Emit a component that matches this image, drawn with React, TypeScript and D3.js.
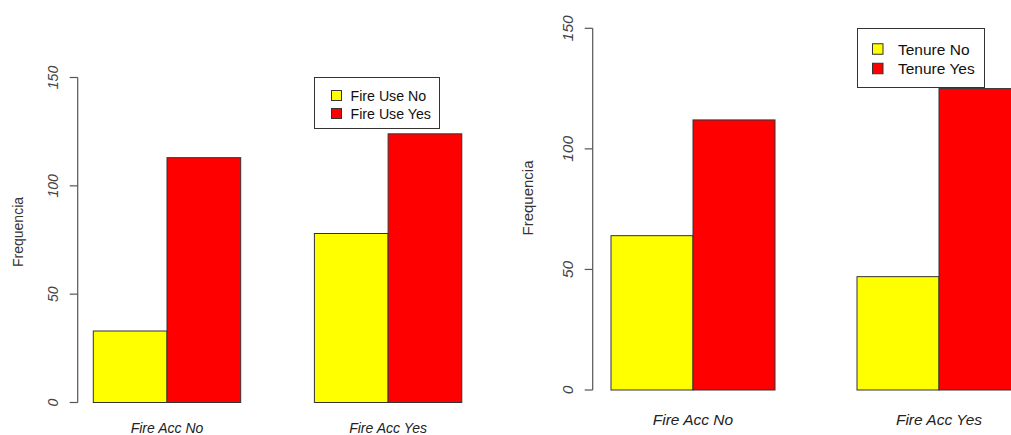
import React from "react";
import * as d3 from "d3";

const categories = ["Fire Acc No", "Fire Acc Yes"];
const fireUseNo = [33, 78];
const fireUseYes = [113, 124];
const tenureNo = [64, 47];
const tenureYes = [112, 125];
const yTicks = [0, 50, 100, 150];
const leftLegend = ["Fire Use No", "Fire Use Yes"];
const rightLegend = ["Tenure No", "Tenure Yes"];
const seriesColors = ["#FFFF00", "#FF0000"];

type PanelProps = {
  s1: number[];
  s2: number[];
  legend: string[];
  yBottom: number;
  yTop: number;
  x0: number;
  unit: number;
  axisX: number;
  tickFs: number;
  ylabFs: number;
  ylabX: number;
  ylabY: number;
  xlabFs: number;
  xlabY: number;
  leg: { x: number; y: number; w: number; h: number; fs: number; r1: number; r2: number; sw: number; swX: number; txX: number };
};

function Panel(p: PanelProps) {
  const y = d3.scaleLinear().domain([0, 150]).range([p.yBottom, p.yTop]);
  const x = d3.scaleLinear().domain([0, 6]).range([p.x0, p.x0 + 6 * p.unit]);
  const series = [p.s1, p.s2];
  const font = "Liberation Sans, Arial, sans-serif";
  return (
    <g>
      {categories.map((c, gi) =>
        series.map((s, si) => {
          const u = 1 + gi * 3 + si;
          return (
            <rect
              key={c + si}
              x={x(u)}
              y={y(s[gi])}
              width={x(u + 1) - x(u)}
              height={y(0) - y(s[gi])}
              fill={seriesColors[si]}
              stroke="#333"
              strokeWidth={1}
            />
          );
        })
      )}
      <line x1={p.axisX} x2={p.axisX} y1={y(0)} y2={y(150)} stroke="#555" strokeWidth={1.2} />
      {yTicks.map((t) => (
        <g key={t}>
          <line x1={p.axisX - 8} x2={p.axisX} y1={y(t)} y2={y(t)} stroke="#555" strokeWidth={1.2} />
          <text
            transform={`translate(${p.axisX - 20},${y(t)}) rotate(-90)`}
            textAnchor="middle"
            fontFamily={font}
            fontStyle="italic"
            fontSize={p.tickFs}
            fill="#444"
          >
            {t}
          </text>
        </g>
      ))}
      <text
        transform={`translate(${p.ylabX},${p.ylabY}) rotate(-90)`}
        textAnchor="middle"
        dominantBaseline="central"
        fontFamily={font}
        fontSize={p.ylabFs}
        fill="#333"
      >
        Frequencia
      </text>
      {categories.map((c, gi) => (
        <text
          key={c}
          x={x(2 + gi * 3)}
          y={p.xlabY}
          textAnchor="middle"
          dominantBaseline="central"
          fontFamily={font}
          fontStyle="italic"
          fontSize={p.xlabFs}
          fill="#222"
        >
          {c}
        </text>
      ))}
      <rect x={p.leg.x} y={p.leg.y} width={p.leg.w} height={p.leg.h} fill="#fff" stroke="#333" strokeWidth={1} />
      {p.legend.map((l, i) => {
        const cy = p.leg.y + (i === 0 ? p.leg.r1 : p.leg.r2);
        return (
          <g key={l}>
            <rect
              x={p.leg.swX}
              y={cy - p.leg.sw / 2}
              width={p.leg.sw}
              height={p.leg.sw}
              fill={seriesColors[i]}
              stroke="#333"
              strokeWidth={1}
            />
            <text
              x={p.leg.txX}
              y={cy}
              dominantBaseline="central"
              fontFamily={font}
              fontSize={p.leg.fs}
              fill="#111"
            >
              {l}
            </text>
          </g>
        );
      })}
    </g>
  );
}

export default function App() {
  return (
    <svg
      width={1011}
      height={435}
      style={{ position: "absolute", left: 0, top: 0, background: "#fff" }}
    >
      <rect x={0} y={0} width={1011} height={435} fill="#fff" />
      <Panel
        s1={fireUseNo}
        s2={fireUseYes}
        legend={leftLegend}
        yBottom={402.5}
        yTop={77.5}
        x0={19.6}
        unit={73.7}
        axisX={77.7}
        tickFs={14}
        ylabFs={14}
        ylabX={18}
        ylabY={232}
        xlabFs={14}
        xlabY={428}
        leg={{ x: 314.5, y: 77.5, w: 125, h: 51, fs: 14.2, r1: 18, r2: 36, sw: 10, swX: 331.5, txX: 350.5 }}
      />
      <Panel
        s1={tenureNo}
        s2={tenureYes}
        legend={rightLegend}
        yBottom={390}
        yTop={28.3}
        x0={529}
        unit={82}
        axisX={592.7}
        tickFs={15.5}
        ylabFs={15}
        ylabX={527}
        ylabY={198}
        xlabFs={15.5}
        xlabY={419}
        leg={{ x: 857.5, y: 28.5, w: 127, h: 59, fs: 15.5, r1: 20.5, r2: 40, sw: 10.5, swX: 872.5, txX: 898 }}
      />
    </svg>
  );
}
